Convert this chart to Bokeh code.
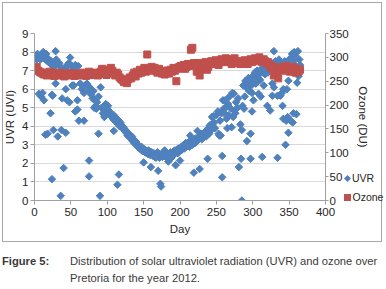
from bokeh.plotting import figure
from bokeh.models import Range1d, LinearAxis, FixedTicker, Div
from bokeh.layouts import column
from bokeh.embed import file_html
from bokeh.resources import INLINE
import numpy as np

# ---- UVR (UVI), left axis ----
uvr_day_a = [1, 2, 3, 4, 5, 7, 8, 10, 11, 12, 14, 15, 16, 17, 18, 20, 21, 23, 24, 26, 27, 29, 30, 33, 34, 36, 38, 44, 45, 47, 49, 50, 52, 54, 56, 58, 60]
uvr_val_a = [7.7, 7.8, 7.6, 7.9, 7.7, 7.8, 7.6, 7.9, 7.7, 8.0, 7.8, 7.6, 7.9, 7.7, 7.5, 7.6, 7.4, 7.5, 7.3, 7.4, 7.2, 8.05, 7.6, 7.3, 7.4, 7.2, 7.1, 7.2, 7.3, 7.4, 7.7, 7.3, 7.2, 7.1, 7.3, 7.2, 7.25]

uvr_day_b = [6, 9, 11, 13, 15, 18, 22, 24, 24, 25, 26, 29, 32, 36, 37, 38, 40, 43, 43, 45, 48, 52, 54, 56, 59, 59, 61, 68, 75, 75, 88, 90]
uvr_val_b = [5.75, 5.6, 5.8, 5.4, 3.55, 3.6, 4.7, 5.7, 1.15, 5.65, 3.8, 6.3, 3.45, 0.25, 3.8, 5.5, 1.75, 6.0, 3.65, 5.4, 5.3, 6.2, 6.2, 4.8, 5.4, 4.9, 4.3, 4.3, 2.15, 1.3, 3.6, 0.25]

uvr_day_c = [63, 65, 68, 70, 72, 74, 76, 78, 80, 81, 82, 83, 84, 85, 86, 88, 91, 92, 94, 96, 97, 98, 100, 101, 102, 103, 105, 106, 108, 109, 109, 110, 111, 112, 113, 114, 114, 115, 116, 116, 117, 118, 119, 120]
uvr_val_c = [6.3, 6.0, 5.8, 6.2, 6.3, 5.9, 6.1, 5.7, 5.5, 5.9, 5.0, 5.4, 5.1, 4.95, 5.3, 5.6, 6.1, 5.0, 4.7, 4.5, 4.6, 5.2, 4.9, 5.1, 4.85, 4.8, 4.6, 4.5, 4.4, 4.6, 3.75, 4.3, 4.5, 4.4, 4.2, 4.35, 0.85, 4.1, 4.3, 1.4, 4.0, 4.2, 4.1, 3.95]

uvr_day_d = [121, 122, 123, 124, 125, 126, 127, 128, 129, 130, 131, 132, 133, 134, 135, 136, 137, 138, 139, 140, 141, 142, 143, 144, 145, 146, 147, 148, 149, 150, 151, 152, 153, 154, 155, 156, 157, 158, 159, 160, 161, 162, 163, 164, 165]
uvr_val_d = [4.0, 3.85, 3.9, 3.75, 3.8, 3.65, 3.7, 3.5, 3.6, 3.45, 3.55, 3.4, 3.3, 3.45, 3.2, 3.3, 3.1, 3.2, 3.05, 3.15, 2.95, 3.0, 2.85, 2.9, 2.8, 2.75, 2.9, 2.7, 2.65, 2.05, 2.75, 2.6, 2.7, 2.55, 2.65, 2.5, 2.7, 2.6, 2.45, 1.8, 2.6, 2.5, 2.4, 2.55, 2.35]

uvr_day_e = [166, 167, 168, 169, 170, 171, 172, 173, 174, 175, 176, 177, 178, 179, 180, 181, 182, 183, 184, 185, 186, 187, 188, 189, 190, 191, 192, 193, 194, 195, 196, 197, 198, 199, 200]
uvr_val_e = [2.5, 2.3, 2.45, 2.6, 1.6, 2.4, 2.3, 0.9, 0.75, 2.5, 2.35, 2.6, 2.4, 2.7, 2.5, 2.55, 2.3, 2.4, 2.1, 2.2, 2.45, 2.6, 2.3, 2.5, 2.4, 2.65, 2.5, 2.7, 1.9, 2.6, 2.75, 2.55, 2.8, 2.65, 2.15]

uvr_day_f = [201, 202, 203, 204, 205, 206, 207, 208, 209, 210, 211, 212, 213, 214, 215, 216, 217, 218, 219, 220, 221, 222, 223, 224, 225, 226, 227, 228, 229, 230, 231, 232, 233, 234, 235, 236, 237, 238, 239, 240, 241, 242, 243, 244, 245, 246]
uvr_val_f = [2.7, 2.9, 2.75, 2.85, 3.0, 2.8, 2.95, 3.1, 2.9, 3.05, 3.0, 3.15, 2.9, 3.5, 3.1, 3.25, 3.0, 3.2, 1.5, 3.3, 3.1, 3.35, 3.2, 3.75, 3.4, 3.3, 1.7, 3.45, 3.6, 3.3, 3.5, 3.4, 3.65, 3.55, 3.7, 3.45, 3.8, 2.25, 3.9, 3.6, 4.05, 3.75, 4.1, 4.5, 4.5, 4.55]

uvr_day_g = [247, 248, 250, 252, 253, 254, 255, 256, 257, 258, 258, 259, 260, 261, 262, 263, 264, 265, 266, 267, 268, 270, 271, 272, 273, 274, 275, 276, 277, 279, 280, 281, 283, 284, 285, 285, 286, 287, 288, 289, 290, 291]
uvr_val_g = [4.2, 3.9, 4.6, 4.8, 3.6, 3.5, 4.3, 3.5, 4.7, 2.4, 1.25, 5.4, 4.95, 4.7, 5.4, 5.0, 4.4, 3.9, 5.2, 4.6, 5.6, 4.95, 3.95, 5.8, 4.5, 5.75, 4.85, 4.7, 5.3, 5.0, 5.5, 1.8, 4.1, 2.25, 0.0, 3.8, 5.1, 6.2, 4.95, 5.6, 6.45, 6.1]

uvr_day_h = [292, 293, 294, 295, 296, 297, 297, 298, 299, 299, 300, 301, 302, 303, 304, 305, 306, 307, 308, 309, 310, 311, 312, 313, 314, 315, 316, 317, 318, 320, 321, 322, 324, 324, 326, 327, 327, 328, 329, 329, 331, 333]
uvr_val_h = [3.2, 6.3, 6.6, 5.9, 6.4, 3.6, 2.25, 6.2, 5.8, 4.8, 6.7, 5.4, 6.5, 6.9, 6.3, 6.6, 7.0, 6.4, 5.75, 6.8, 6.5, 5.6, 7.1, 2.35, 6.9, 6.2, 7.0, 6.8, 7.15, 5.1, 6.9, 7.2, 7.4, 4.85, 7.3, 6.3, 5.65, 7.4, 8.05, 6.1, 7.5, 7.3]

uvr_day_i = [334, 334, 336, 338, 339, 340, 341, 342, 342, 344, 345, 346, 347, 348, 349, 349, 350, 352, 353, 354, 355, 356, 356, 357, 358, 359, 360, 361, 362, 363, 364, 365]
uvr_val_i = [5.65, 2.3, 7.6, 5.65, 7.4, 5.8, 5.1, 6.0, 4.4, 7.5, 3.0, 4.3, 6.0, 4.5, 6.45, 3.65, 7.6, 4.3, 7.7, 7.9, 4.2, 7.5, 4.7, 8.0, 7.8, 7.25, 4.65, 6.35, 8.05, 6.7, 7.6, 7.3]

uvr_day = uvr_day_a + uvr_day_b + uvr_day_c + uvr_day_d + uvr_day_e + uvr_day_f + uvr_day_g + uvr_day_h + uvr_day_i
uvr_val = uvr_val_a + uvr_val_b + uvr_val_c + uvr_val_d + uvr_val_e + uvr_val_f + uvr_val_g + uvr_val_h + uvr_val_i

# ---- Ozone (DU), right axis, every second day ----
ozone_day = list(range(1, 366, 2))
ozone_val = [
    276, 280, 272, 270, 268,
    266, 264, 268, 262, 265, 270, 263, 266, 261, 267, 264, 262, 268, 265, 263, 260, 266, 264, 262, 267, 263, 265, 261, 266, 264,
    262, 266, 263, 268, 264, 261, 265, 270, 266, 263, 267, 264, 268, 262, 266, 270, 276, 272, 266, 263,
    268, 274, 278, 272, 266, 262, 268, 264, 258, 255,
    252, 248, 250, 246, 254, 258, 256, 262, 268, 260,
    270, 266, 274, 268, 272, 278, 270, 306, 276, 272,
    280, 274, 278, 272, 268, 276, 270, 266, 272, 264,
    268, 272, 266, 274, 270, 278, 272, 250, 276, 280,
    282, 278, 284, 276, 280, 286, 282, 316, 320, 288,
    284, 270, 288, 262, 282, 276, 284, 290, 274, 280,
    288, 292, 286, 290, 294, 288, 284, 292, 296, 290,
    294, 298, 292, 296, 290, 286, 294, 298, 292, 288,
    290, 286, 292, 288, 294, 290, 286, 292, 296, 290,
    294, 298, 292, 296, 300, 294, 290, 296, 292, 288,
    290, 284, 278, 282, 262, 276, 270, 256, 274, 280,
    276, 272, 278, 282, 274, 270, 276, 280, 272, 268,
    276, 270, 274,
]

x_ticks = [0, 50, 100, 150, 200, 250, 300, 350, 400]
uvr_ticks = [0, 1, 2, 3, 4, 5, 6, 7, 8, 9]
ozone_ticks = [0, 50, 100, 150, 200, 250, 300, 350]
series_names = ["UVR", "Ozone"]
caption_head = "Figure 5:"
caption_lines = ["Distribution of solar ultraviolet radiation (UVR) and ozone over",
                 "Pretoria for the year 2012."]

FONT = "Liberation Sans"
TXT = "#262626"
BLUE = "#4F81BD"
RED = "#C0504D"
AXIS = "#A0A0A0"

p = figure(width=386, height=246, output_backend="svg", toolbar_location=None, title=None,
           x_range=Range1d(0, 400), y_range=Range1d(0, 9),
           min_border_left=34, min_border_right=61, min_border_top=33, min_border_bottom=46)
p.extra_y_ranges = {"ozone": Range1d(0, 350)}
p.outline_line_color = None
p.xgrid.visible = False
p.ygrid.ticker = FixedTicker(ticks=uvr_ticks)
p.ygrid.grid_line_color = "#D9D9D9"


def style_axis(ax, tick_out, label_standoff, title_standoff):
    ax.axis_line_color = AXIS
    ax.major_tick_line_color = AXIS
    ax.major_tick_out = tick_out
    ax.major_tick_in = 0
    ax.minor_tick_line_color = None
    ax.major_label_text_font = FONT
    ax.major_label_text_font_size = "11.5px"
    ax.major_label_text_color = TXT
    ax.major_label_standoff = label_standoff
    ax.axis_label_text_font = FONT
    ax.axis_label_text_font_size = "11.5px"
    ax.axis_label_text_font_style = "normal"
    ax.axis_label_text_color = TXT
    ax.axis_label_standoff = title_standoff


p.xaxis[0].ticker = FixedTicker(ticks=x_ticks)
p.xaxis[0].axis_label = "Day"
style_axis(p.xaxis[0], 4, 3, 4)
p.yaxis[0].ticker = FixedTicker(ticks=uvr_ticks)
p.yaxis[0].axis_label = "UVR (UVI)"
style_axis(p.yaxis[0], 4, 2, 3)

rax = LinearAxis(y_range_name="ozone", ticker=FixedTicker(ticks=ozone_ticks), axis_label="Ozone (DU)")
style_axis(rax, 3, 1, 5)
p.add_layout(rax, "right")

p.scatter(uvr_day, uvr_val, marker="square", angle=np.pi / 4, size=5.3,
          fill_color=BLUE, line_color=BLUE)
p.scatter(ozone_day, ozone_val, marker="square", size=7, y_range_name="ozone",
          fill_color=RED, line_color=RED)

# Caption, chart border and legend (legend sits outside the plot frame, so it is laid
# over the chart's right margin from this block; offsets are relative to the block's top)
html = f"""
<div style="position:relative;width:386px;height:43px;font-family:'{FONT}';font-size:11.2px;line-height:1;color:#3a3a3a;">
  <div style="position:absolute;left:2px;top:-244px;width:380px;height:240px;border:1px solid #A6A6A6;pointer-events:none;"></div>
  <div style="position:absolute;left:344.5px;top:-70.5px;width:5px;height:5px;background:{BLUE};transform:rotate(45deg);"></div>
  <div style="position:absolute;left:352px;top:-73.5px;color:{TXT};font-size:10.5px;white-space:nowrap;">{series_names[0]}</div>
  <div style="position:absolute;left:343.5px;top:-52.5px;width:7px;height:7px;background:{RED};"></div>
  <div style="position:absolute;left:352.5px;top:-54.5px;color:{TXT};font-size:10.5px;white-space:nowrap;">{series_names[1]}</div>
  <div style="position:absolute;left:2px;top:10px;font-weight:bold;white-space:nowrap;">{caption_head}</div>
  <div style="position:absolute;left:70px;top:10px;white-space:nowrap;">{caption_lines[0]}</div>
  <div style="position:absolute;left:70px;top:27px;white-space:nowrap;">{caption_lines[1]}</div>
</div>
"""
cap = Div(text=html, width=386, height=43, margin=0, styles={"overflow": "visible"})

layout = column(p, cap, spacing=0)
open("out.html", "w").write(file_html(layout, INLINE))
